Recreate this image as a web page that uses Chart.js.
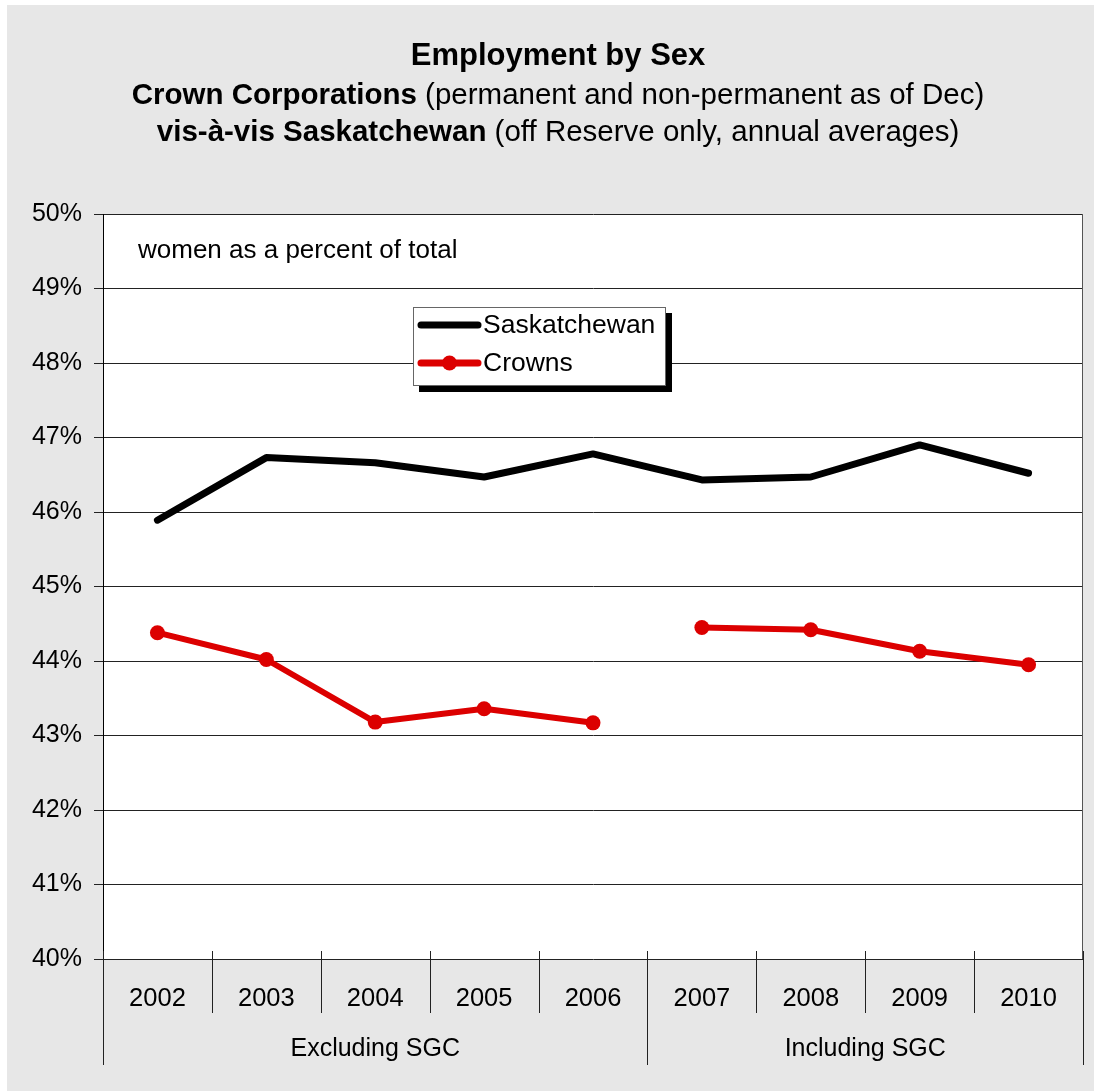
<!DOCTYPE html>
<html>

<head>
  <title>Employment by Sex</title>
  <style>
    body { margin: 0; background: #fff; }
    canvas { display: block; }
  </style>
</head>

<body>
  <canvas id="chart" width="1094" height="1091"></canvas>
  <script src="https://cdn.jsdelivr.net/npm/chart.js"></script>
  <script>
    // women as a percent of total, by year
    const years = ['2002', '2003', '2004', '2005', '2006', '2007', '2008', '2009', '2010'];
    const saskatchewan = [45.89, 46.73, 46.66, 46.47, 46.78, 46.43, 46.47, 46.90, 46.52];
    const crowns = [44.38, 44.02, 43.18, 43.36, 43.17, 44.45, 44.42, 44.13, 43.95];

    // second row of the x axis
    const groupLabels = ['Excluding SGC', 'Including SGC'];
    const groupSizes = [5, 4];

    const yMin = 40;
    const yMax = 50;

    const FONT = "'Liberation Sans', Arial, sans-serif";
    Chart.defaults.font.family = FONT;
    Chart.defaults.color = '#000';

    // index of the first year in each group, plus the end
    const groupEdges = [0];
    groupSizes.forEach((n, i) => groupEdges.push(groupEdges[i] + n));

    const titleLines = [
      [{ text: 'Employment by Sex', bold: true }],
      [{ text: 'Crown Corporations', bold: true }, { text: ' (permanent and non-permanent as of Dec)', bold: false }],
      [{ text: 'vis-à-vis Saskatchewan', bold: true }, { text: ' (off Reserve only, annual averages)', bold: false }]
    ];

    const background = {
      id: 'background',
      beforeDraw(chart) {
        const { ctx, width, height, chartArea } = chart;
        ctx.save();
        ctx.fillStyle = '#fff';
        ctx.fillRect(0, 0, width, height);
        ctx.fillStyle = '#e7e7e7';
        ctx.fillRect(7, 5, width - 7, height - 5);
        ctx.fillStyle = '#fff';
        ctx.fillRect(chartArea.left, chartArea.top, chartArea.right - chartArea.left, chartArea.bottom - chartArea.top);
        ctx.restore();
      }
    };

    const decorations = {
      id: 'decorations',
      afterDraw(chart) {
        const { ctx, chartArea } = chart;
        const xs = chart.scales.x;
        ctx.save();

        // right edge of the plot
        ctx.strokeStyle = '#555';
        ctx.lineWidth = 1;
        ctx.beginPath();
        ctx.moveTo(Math.round(chartArea.right) - 0.5, chartArea.top);
        ctx.lineTo(Math.round(chartArea.right) - 0.5, chartArea.bottom);
        ctx.stroke();

        // category separators below the axis, taller ones between groups
        ctx.strokeStyle = '#222';
        for (let i = 0; i <= years.length; i++) {
          const x = Math.round(xs.getPixelForValue(i - 0.5)) + 0.5;
          const y2 = groupEdges.includes(i) ? 1065 : 1013;
          ctx.beginPath();
          ctx.moveTo(x, chartArea.bottom - 8);
          ctx.lineTo(x, y2);
          ctx.stroke();
        }

        // group labels
        ctx.fillStyle = '#000';
        ctx.font = `25px ${FONT}`;
        ctx.textAlign = 'center';
        ctx.textBaseline = 'middle';
        groupLabels.forEach((label, i) => {
          const a = xs.getPixelForValue(groupEdges[i] - 0.5);
          const b = xs.getPixelForValue(groupEdges[i + 1] - 0.5);
          ctx.fillText(label, (a + b) / 2, 1049);
        });

        // title, mixed bold and regular runs
        const baselines = [65, 104, 141];
        const sizes = [31, 29.5, 29.5];
        ctx.textBaseline = 'alphabetic';
        ctx.textAlign = 'left';
        titleLines.forEach((runs, i) => {
          const fontFor = (r) => `${r.bold ? 'bold ' : ''}${sizes[i]}px ${FONT}`;
          let total = 0;
          runs.forEach((r) => { ctx.font = fontFor(r); total += ctx.measureText(r.text).width; });
          let x = 558 - total / 2;
          runs.forEach((r) => {
            ctx.font = fontFor(r);
            ctx.fillText(r.text, x, baselines[i]);
            x += ctx.measureText(r.text).width;
          });
        });

        // note inside the plot
        ctx.font = `26px ${FONT}`;
        ctx.fillText('women as a percent of total', 138, 258);

        // legend box with drop shadow
        const lx = 413, ly = 307, lw = 253, lh = 79;
        ctx.fillStyle = '#000';
        ctx.fillRect(lx + 6, ly + 6, lw, lh);
        ctx.fillStyle = '#fff';
        ctx.fillRect(lx, ly, lw, lh);
        ctx.strokeStyle = '#666';
        ctx.strokeRect(lx + 0.5, ly + 0.5, lw - 1, lh - 1);

        const rows = [325, 363];
        chart.data.datasets.forEach((ds, i) => {
          const y = rows[i];
          ctx.strokeStyle = ds.borderColor;
          ctx.lineWidth = 7;
          ctx.lineCap = 'round';
          ctx.beginPath();
          ctx.moveTo(421, y);
          ctx.lineTo(478, y);
          ctx.stroke();
          if (ds.pointRadius > 0) {
            ctx.fillStyle = ds.pointBackgroundColor;
            ctx.beginPath();
            ctx.arc(449.5, y, ds.pointRadius, 0, Math.PI * 2);
            ctx.fill();
          }
          ctx.fillStyle = '#000';
          ctx.font = `26.5px ${FONT}`;
          ctx.textBaseline = 'middle';
          ctx.fillText(ds.label, 483, y + 1);
        });

        ctx.restore();
      }
    };

    const ctx = document.getElementById('chart').getContext('2d');
    const chart = new Chart(ctx, {
      type: 'line',
      data: {
        labels: years,
        datasets: [
          {
            label: 'Saskatchewan',
            data: saskatchewan,
            borderColor: '#000',
            borderWidth: 7,
            borderCapStyle: 'round',
            borderJoinStyle: 'round',
            pointRadius: 0,
            pointHoverRadius: 0,
            tension: 0
          },
          {
            label: 'Crowns',
            data: crowns,
            borderColor: '#dc0000',
            backgroundColor: '#dc0000',
            pointBackgroundColor: '#dc0000',
            pointBorderColor: '#dc0000',
            borderWidth: 6,
            borderCapStyle: 'round',
            borderJoinStyle: 'round',
            pointRadius: 7.5,
            pointBorderWidth: 0,
            tension: 0,
            // no line across the change of coverage between groups
            segment: {
              borderColor: (c) => groupEdges.includes(c.p1DataIndex) ? 'rgba(0,0,0,0)' : undefined
            }
          }
        ]
      },
      options: {
        responsive: false,
        animation: false,
        devicePixelRatio: 1,
        layout: { padding: { top: 214, left: 7, right: 11, bottom: 0 } },
        plugins: {
          legend: { display: false },
          title: { display: false },
          tooltip: { enabled: false }
        },
        scales: {
          x: {
            type: 'category',
            offset: true,
            grid: { display: false },
            border: { display: false },
            ticks: {
              font: { size: 25.5 },
              color: '#000',
              padding: 17,
              maxRotation: 0,
              autoSkip: false
            },
            afterFit(scale) { scale.height = 132; }
          },
          y: {
            min: yMin,
            max: yMax,
            grid: { color: '#222', lineWidth: 1, tickLength: 9 },
            border: { color: '#000', width: 1 },
            ticks: {
              stepSize: 1,
              font: { size: 25 },
              color: '#000',
              padding: 12,
              callback: (v) => v + '%'
            },
            afterFit(scale) { scale.width = 96; }
          }
        }
      },
      plugins: [background, decorations]
    });
  </script>
</body>

</html>
